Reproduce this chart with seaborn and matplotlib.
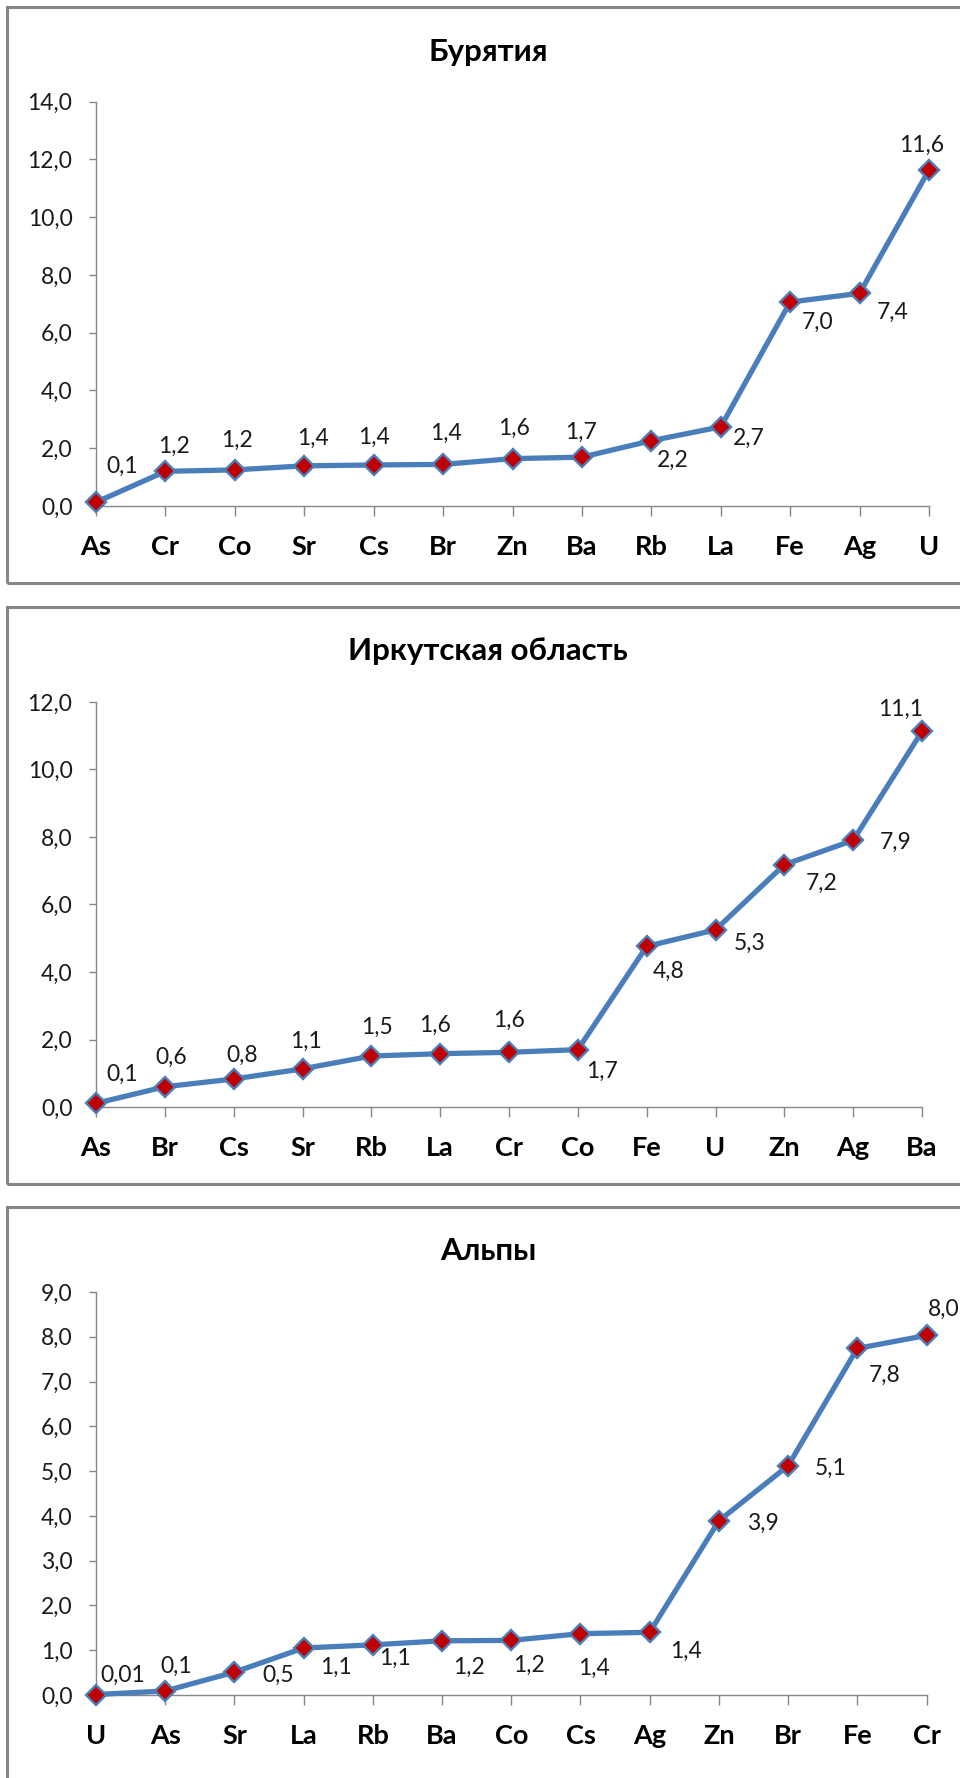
import matplotlib
matplotlib.use("Agg")
import matplotlib.pyplot as plt
from matplotlib.patches import Rectangle
from matplotlib.ticker import FuncFormatter, MultipleLocator
import seaborn as sns
import pandas as pd

sns.set_theme(style="white")
plt.rcParams['font.family'] = ['Lato', 'Noto Sans', 'DejaVu Sans']

# ---------------- data ----------------
title_1 = "Бурятия"
elements_1 = ["As", "Cr", "Co", "Sr", "Cs", "Br", "Zn", "Ba", "Rb", "La", "Fe", "Ag", "U"]
values_1 = [0.13, 1.20, 1.25, 1.39, 1.42, 1.44, 1.64, 1.69, 2.26, 2.74, 7.06, 7.36, 11.63]
labels_1 = ["0,1", "1,2", "1,2", "1,4", "1,4", "1,4", "1,6", "1,7", "2,2", "2,7", "7,0", "7,4", "11,6"]

title_2 = "Иркутская область"
elements_2 = ["As", "Br", "Cs", "Sr", "Rb", "La", "Cr", "Co", "Fe", "U", "Zn", "Ag", "Ba"]
values_2 = [0.11, 0.60, 0.83, 1.13, 1.51, 1.58, 1.62, 1.70, 4.76, 5.25, 7.18, 7.90, 11.13]
labels_2 = ["0,1", "0,6", "0,8", "1,1", "1,5", "1,6", "1,6", "1,7", "4,8", "5,3", "7,2", "7,9", "11,1"]

title_3 = "Альпы"
elements_3 = ["U", "As", "Sr", "La", "Rb", "Ba", "Co", "Cs", "Ag", "Zn", "Br", "Fe", "Cr"]
values_3 = [0.01, 0.09, 0.51, 1.05, 1.12, 1.21, 1.22, 1.37, 1.40, 3.89, 5.12, 7.74, 8.03]
labels_3 = ["0,01", "0,1", "0,5", "1,1", "1,1", "1,2", "1,2", "1,4", "1,4", "3,9", "5,1", "7,8", "8,0"]

# ---------------- layout (pixels) ----------------
W, H = 960, 1778
fig = plt.figure(figsize=(W / 100, H / 100), dpi=100)

# label offsets (pixels, dx right, dy up)
offs_1 = [(26, 36), (9, 25), (2, 30), (9, 27), (0, 28), (3, 31), (2, 30), (-1, 25),
          (21, -20), (28, -12), (27, -20), (33, -19), (-7, 25)]
offs_2 = [(26, 29), (6, 29), (9, 24), (3, 28), (6, 29), (-5, 28), (0, 32), (24, -22),
          (22, -25), (34, -14), (37, -19), (42, -2), (-21, 22)]
offs_3 = [(27, 19), (11, 25), (44, -3), (32, -19), (22, -13), (27, -27), (18, -25),
          (14, -35), (36, -19), (44, -3), (43, -3), (27, -27), (17, 26)]

panels = [
    dict(title=title_1, el=elements_1, val=values_1, lab=labels_1, offs=offs_1,
         box=(96, 929, 101.5, 506), ymax=14, step=2,
         frame=(7, 583), title_y=52),
    dict(title=title_2, el=elements_2, val=values_2, lab=labels_2, offs=offs_2,
         box=(96, 922, 702, 1107), ymax=12, step=2,
         frame=(607, 1184), title_y=651),
    dict(title=title_3, el=elements_3, val=values_3, lab=labels_3, offs=offs_3,
         box=(96, 926.5, 1292, 1695), ymax=9, step=1,
         frame=(1207, 1810), title_y=1251),
]

LINE = "#4A7EBB"
AXC = "#868686"
TXT = "#1a1a1a"
fmt = FuncFormatter(lambda v, p: f"{v:.1f}".replace(".", ","))

for p in panels:
    # outer chart frame
    ft, fb = p["frame"]
    fig.add_artist(Rectangle((7 / W, 1 - fb / H), (969 - 7) / W, (fb - ft) / H,
                             transform=fig.transFigure, fill=False,
                             ec=AXC, lw=2.2, zorder=0))
    fig.text(488 / W, 1 - p["title_y"] / H, p["title"], ha="center", va="center",
             fontsize=22.5, fontweight="bold", color="black")

    l, r, t, b = p["box"]
    ax = fig.add_axes([l / W, 1 - b / H, (r - l) / W, (b - t) / H])
    n = len(p["el"])
    df = pd.DataFrame({"pos": list(range(n)), "value": p["val"]})
    sns.lineplot(data=df, x="pos", y="value", sort=False, ax=ax, color=LINE,
                 lw=3.8, marker="D", markersize=10.5, markerfacecolor="#C00000",
                 markeredgecolor=LINE, markeredgewidth=1.7, clip_on=False, zorder=5)
    ax.set_xlim(0, n - 1)
    ax.set_ylim(0, p["ymax"])
    ax.yaxis.set_major_locator(MultipleLocator(p["step"]))
    ax.yaxis.set_major_formatter(fmt)
    ax.set_xticks(range(n))
    ax.set_xticklabels(p["el"], fontsize=19.5, fontweight="bold")
    ax.set_xlabel("")
    ax.set_ylabel("")
    for s in ["top", "right"]:
        ax.spines[s].set_visible(False)
    for s in ["left", "bottom"]:
        ax.spines[s].set_color(AXC)
        ax.spines[s].set_linewidth(1.0)
    ax.tick_params(axis="y", direction="out", length=5, width=1, color=AXC,
                   labelsize=16.5, labelcolor=TXT, pad=12, left=True)
    ax.tick_params(axis="x", direction="out", length=7, width=1, color=AXC,
                   labelcolor="black", pad=14, bottom=True)
    ax.grid(False)
    ax.set_facecolor("none")
    for i, (v, s, (dx, dy)) in enumerate(zip(p["val"], p["lab"], p["offs"])):
        ax.annotate(s, (i, v), xytext=(dx, dy), textcoords="offset pixels",
                    ha="center", va="center", fontsize=16.5, color=TXT,
                    annotation_clip=False, zorder=6)

fig.savefig("out.png", dpi=100, facecolor="white")
